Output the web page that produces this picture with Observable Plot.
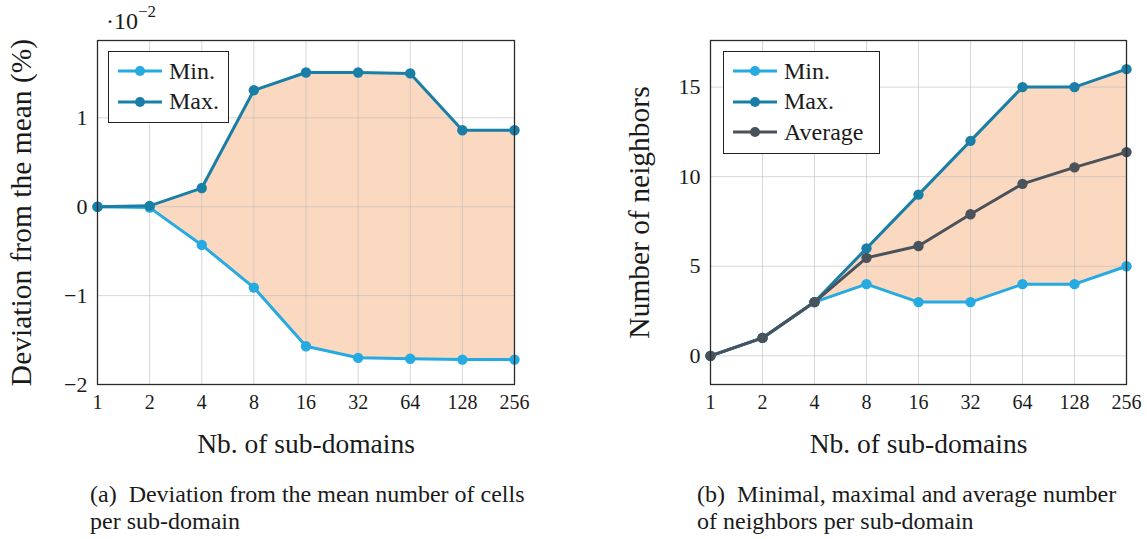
<!DOCTYPE html>
<html><head><meta charset="utf-8">
<script src="https://cdn.jsdelivr.net/npm/d3@7"></script>
<script src="https://cdn.jsdelivr.net/npm/@observablehq/plot@0.6"></script>
<style>
body{margin:0;background:#fff;font-family:"Liberation Serif",serif;color:#1a1a1a}
#wrap{position:relative;width:1147px;height:539px;overflow:hidden}
.legend{position:absolute;border:1.4px solid #222;background:#fff;box-sizing:border-box;padding:4px 0 0 9px}
.legend .row{display:flex;align-items:center;height:30.5px;font-size:24px}
.legend svg{margin-right:7px}
.caption{position:absolute;font-size:24px;line-height:27px;color:#1a1a1a;white-space:nowrap}
.expo{position:absolute;font-size:24px}
.expo sup{font-size:17px;position:relative;top:-3px}
</style>
</head><body>
<div id="wrap"></div>
<script>
const nDomains = [1, 2, 4, 8, 16, 32, 64, 128, 256];
const devMin = [0, -0.01, -0.43, -0.91, -1.57, -1.70, -1.71, -1.72, -1.72];
const devMax = [0, 0.01, 0.21, 1.31, 1.51, 1.51, 1.50, 0.86, 0.86];
const nbMin = [0, 1, 3, 4, 3, 3, 4, 4, 5];
const nbMax = [0, 1, 3, 6, 9, 12, 15, 15, 16];
const nbAvg = [0, 1, 3, 5.47, 6.13, 7.9, 9.6, 10.52, 11.37];
const yTicksA = [-2, -1, 0, 1];
const yTicksB = [0, 5, 10, 15];
const seriesColors = {"Min.": "#25aae1", "Max.": "#1a7fa6", "Average": "#4a525b"};
const fillColor = "#fbd9c1";

const fmt = d => d < 0 ? "\u2212" + (-d) : String(d);
const wrap = document.getElementById("wrap");

function makePanel({left, width, mLeft, mRight, yDomain, yTicks, yLabel, yLabelOffset, series, lo, hi}) {
  const rows = nDomains.map((n, i) => ({n, lo: lo[i], hi: hi[i]}));
  const long = [];
  for (const [name, vals] of series) nDomains.forEach((n, i) => long.push({n, v: vals[i], s: name}));
  const marks = [
    Plot.areaY(rows, {x: "n", y1: "lo", y2: "hi", fill: fillColor}),
    Plot.gridX(nDomains, {stroke: "#b8b8b8", strokeOpacity: 0.55, strokeWidth: 1}),
    Plot.gridY(yTicks, {stroke: "#b8b8b8", strokeOpacity: 0.55, strokeWidth: 1}),
  ];
  for (const [name] of series) {
    const d = long.filter(r => r.s === name);
    marks.push(Plot.line(d, {x: "n", y: "v", stroke: seriesColors[name], strokeWidth: 3}));
    marks.push(Plot.dot(d, {x: "n", y: "v", fill: seriesColors[name], r: 5.2}));
  }
  marks.push(Plot.frame({stroke: "#2a2a2a", strokeWidth: 1.3}));
  const chart = Plot.plot({
    width, height: 470,
    marginLeft: mLeft, marginRight: mRight, marginTop: 40, marginBottom: 86,
    style: {fontFamily: '"Liberation Serif", serif', fontSize: "20px", color: "#1a1a1a", background: "transparent", overflow: "visible"},
    x: {type: "log", base: 2, domain: [1, 256], ticks: nDomains, tickFormat: d => String(d),
        tickSize: 0, tickPadding: 10, label: "Nb. of sub-domains", labelAnchor: "center", labelArrow: "none", labelOffset: 68},
    y: {domain: yDomain, ticks: yTicks, tickFormat: fmt, tickSize: 0, tickPadding: 10,
        label: yLabel, labelAnchor: "center", labelArrow: "none", labelOffset: yLabelOffset},
    marks
  });
  chart.style.position = "absolute";
  chart.style.left = left + "px";
  chart.style.top = "0px";
  chart.querySelectorAll('[aria-label="x-axis label"] text').forEach(t => t.style.fontSize = "27.5px");
  chart.querySelectorAll('[aria-label="y-axis label"] text').forEach(t => t.style.fontSize = "29.5px");
  chart.querySelectorAll('[aria-label="y-axis tick label"] text').forEach(t => t.style.fontSize = "22px");
  wrap.appendChild(chart);
}

function makeLegend(left, top, w, names) {
  const div = document.createElement("div");
  div.className = "legend";
  div.style.left = left + "px"; div.style.top = top + "px"; div.style.width = w + "px";
  div.style.height = (names.length * 30.5 + 11) + "px";
  for (const name of names) {
    const c = seriesColors[name];
    const row = document.createElement("div");
    row.className = "row";
    row.innerHTML = `<svg width="44" height="12"><line x1="0" x2="44" y1="6" y2="6" stroke="${c}" stroke-width="3"/><circle cx="22" cy="6" r="5" fill="${c}"/></svg><span>${name}</span>`;
    div.appendChild(row);
  }
  wrap.appendChild(div);
}

makePanel({left: 0, width: 573, mLeft: 97, mRight: 59, yDomain: [-2, 1.87], yTicks: yTicksA, yLabelOffset: 87,
  yLabel: "Deviation from the mean (%)", series: [["Min.", devMin], ["Max.", devMax]], lo: devMin, hi: devMax});
makePanel({left: 573, width: 574, mLeft: 137, mRight: 21, yDomain: [-1.6, 17.6], yTicks: yTicksB, yLabelOffset: 82,
  yLabel: "Number of neighbors", series: [["Min.", nbMin], ["Max.", nbMax], ["Average", nbAvg]], lo: nbMin, hi: nbMax});

makeLegend(108, 51, 121, ["Min.", "Max."]);
makeLegend(723, 51, 157, ["Min.", "Max.", "Average"]);

const expo = document.createElement("div");
expo.className = "expo";
expo.style.left = "106px"; expo.style.top = "5px";
expo.innerHTML = "\u00b710<sup>\u22122</sup>";
wrap.appendChild(expo);

const capA = document.createElement("div");
capA.className = "caption";
capA.style.left = "90px"; capA.style.top = "481px";
capA.innerHTML = "(a)&nbsp; Deviation from the mean number of cells<br>per sub-domain";
wrap.appendChild(capA);
const capB = document.createElement("div");
capB.className = "caption";
capB.style.left = "697px"; capB.style.top = "481px";
capB.innerHTML = "(b)&nbsp; Minimal, maximal and average number<br>of neighbors per sub-domain";
wrap.appendChild(capB);
</script>
</body></html>
